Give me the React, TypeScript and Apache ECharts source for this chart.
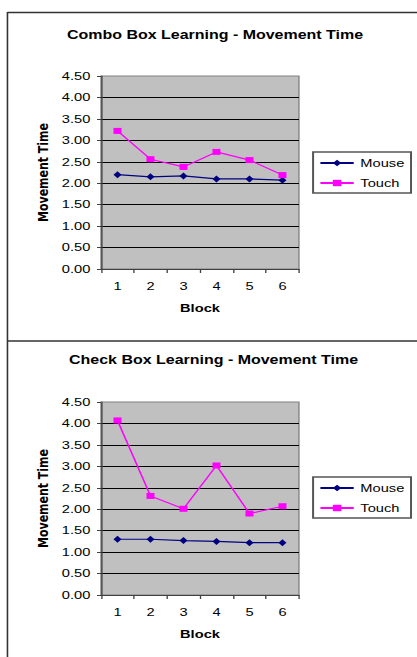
import React, { useEffect, useRef } from "react";
import * as echarts from "echarts";

// ---- data ----
const blocks = ["1", "2", "3", "4", "5", "6"];
const comboMouse = [2.2, 2.15, 2.17, 2.1, 2.1, 2.07];
const comboTouch = [3.22, 2.56, 2.38, 2.73, 2.54, 2.19];
const checkMouse = [1.3, 1.3, 1.27, 1.25, 1.22, 1.22];
const checkTouch = [4.07, 2.31, 2.01, 3.02, 1.9, 2.07];
const titles = [
  "Combo Box Learning - Movement Time",
  "Check Box Learning - Movement Time",
];
const seriesNames = ["Mouse", "Touch"];
const yMin = 0;
const yMax = 4.5;
const yInterval = 0.5;

// layout (inner, unstretched coordinates)
const INNER_W = 313;
const STRETCH = 417 / INNER_W;
const FONT = "Liberation Sans";

export default function App() {
  const ref = useRef<HTMLDivElement>(null);

  useEffect(() => {
    if (!ref.current) return;
    const chart = echarts.init(ref.current, undefined, { renderer: "svg" });

    const gridTops = [76, 402];
    const titleTops = [29, 354];
    const legendTops = [152, 477];
    const plotH = 193;

    const xAxes = gridTops.map((_, i) => ({
      type: "category",
      gridIndex: i,
      data: blocks,
      boundaryGap: true,
      name: "Block",
      nameLocation: "middle",
      nameGap: 34,
      nameTextStyle: { fontFamily: FONT, fontWeight: "bold", fontSize: 11, color: "#000" },
      axisLine: { show: true, lineStyle: { color: "#404040", width: 1 } },
      axisTick: { show: true, inside: false, length: 4, alignWithLabel: false, lineStyle: { color: "#404040" } },
      axisLabel: { fontFamily: FONT, fontSize: 11, color: "#000", margin: 12 },
      splitLine: { show: false },
    }));

    const yAxes = gridTops.map((_, i) => ({
      type: "value",
      gridIndex: i,
      min: yMin,
      max: yMax,
      interval: yInterval,
      name: "Movement Time",
      nameLocation: "middle",
      nameGap: 38,
      nameTextStyle: { fontFamily: "DejaVu Sans", fontWeight: "bold", fontSize: 11, color: "#000" },
      axisLine: { show: true, lineStyle: { color: "#404040", width: 1 } },
      axisTick: { show: true, inside: false, length: 3, lineStyle: { color: "#404040" } },
      axisLabel: {
        fontFamily: FONT,
        fontSize: 11,
        color: "#000",
        margin: 8,
        formatter: (v: number) => v.toFixed(2),
      },
      splitLine: { show: true, showMaxLine: false, lineStyle: { color: "#000", width: 1 } },
    }));

    const mk = (name: string, data: number[], idx: number, isMouse: boolean) => ({
      type: "line",
      name,
      xAxisIndex: idx,
      yAxisIndex: idx,
      data,
      symbol: isMouse ? "diamond" : "rect",
      symbolSize: isMouse ? [6, 7] : [6, 6],
      showSymbol: true,
      lineStyle: { color: isMouse ? "#000080" : "#ff00ff", width: 1.2 },
      itemStyle: { color: isMouse ? "#000080" : "#ff00ff" },
      emphasis: { disabled: true },
    });

    chart.setOption({
      animation: false,
      backgroundColor: "#ffffff",
      title: titles.map((t, i) => ({
        text: t,
        left: i === 0 ? 161.4 : 160.3,
        textAlign: "center",
        top: titleTops[i],
        padding: 0,
        textStyle: { fontFamily: FONT, fontWeight: "bold", fontSize: 12, color: "#000" },
      })),
      legend: legendTops.map((t) => ({
        data: seriesNames,
        orient: "vertical",
        left: 235,
        top: t,
        padding: [5.5, 5, 4.5, 4.5],
        itemGap: 9,
        itemWidth: 25,
        itemHeight: 8,
        borderColor: "#555",
        borderWidth: 1.5,
        backgroundColor: "#fff",
        textStyle: { fontFamily: FONT, fontSize: 11, color: "#000" },
        selectedMode: false,
      })),
      grid: gridTops.map((t) => ({
        left: 75.8,
        width: 148.6,
        top: t,
        height: plotH,
        show: true,
        backgroundColor: "#c0c0c0",
        borderColor: "#808080",
        borderWidth: 1,
      })),
      xAxis: xAxes,
      yAxis: yAxes,
      series: [
        mk(seriesNames[0], comboMouse, 0, true),
        mk(seriesNames[1], comboTouch, 0, false),
        mk(seriesNames[0], checkMouse, 1, true),
        mk(seriesNames[1], checkTouch, 1, false),
      ],
      graphic: [
        { type: "line", shape: { x1: 5.6, y1: 12, x2: 5.6, y2: 657 }, style: { stroke: "#333", lineWidth: 1.2 } },
        { type: "line", shape: { x1: 5.6, y1: 12.5, x2: INNER_W, y2: 12.5 }, style: { stroke: "#333", lineWidth: 1.5 } },
        { type: "line", shape: { x1: 5.6, y1: 341, x2: INNER_W, y2: 341 }, style: { stroke: "#333", lineWidth: 1.5 } },
      ],
    });

    return () => chart.dispose();
  }, []);

  return (
    <div style={{ position: "absolute", left: 0, top: 0, width: 417, height: 657, overflow: "hidden", background: "#fff" }}>
      <div
        ref={ref}
        style={{
          width: INNER_W,
          height: 657,
          transform: `scaleX(${STRETCH})`,
          transformOrigin: "0 0",
        }}
      />
    </div>
  );
}
